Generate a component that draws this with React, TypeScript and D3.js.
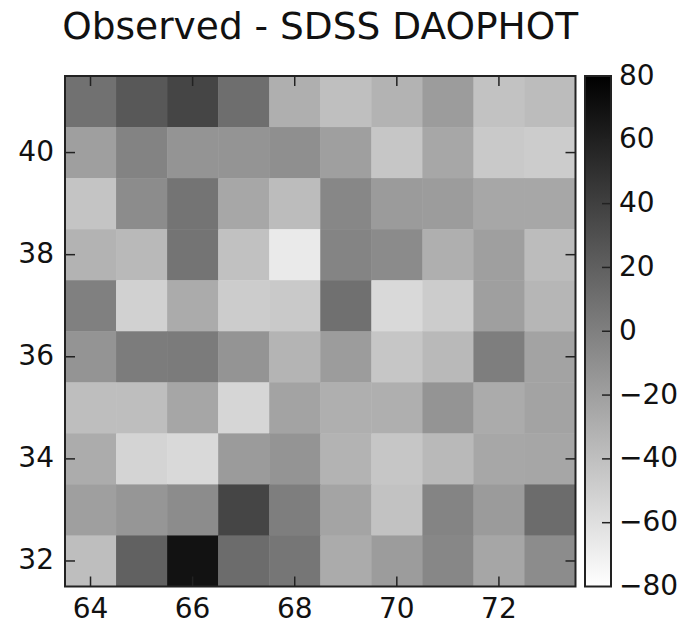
import React from 'react'
import * as d3 from 'd3'

// grid centres
const xCenters = [64, 65, 66, 67, 68, 69, 70, 71, 72, 73]
const yCenters = [41, 40, 39, 38, 37, 36, 35, 34, 33, 32]

// residual values, one row per y (top to bottom)
const row41 = [9, 25, 37, 11, -30, -40, -32, -18, -42, -38]
const row40 = [-20, -2, -13, -13, -10, -20, -44, -25, -46, -48]
const row39 = [-43, -8, 7, -25, -38, -5, -17, -18, -25, -25]
const row38 = [-32, -36, 7, -41, -67, -3, -7, -30, -20, -38]
const row37 = [0, -51, -27, -48, -46, 10, -56, -48, -20, -34]
const row36 = [-13, 2, 3, -13, -33, -18, -44, -36, 1, -22]
const row35 = [-39, -39, -24, -54, -22, -30, -30, -13, -27, -22]
const row34 = [-28, -53, -56, -17, -13, -32, -44, -36, -25, -24]
const row33 = [-20, -14, -8, 37, 1, -23, -42, -3, -17, 12]
const row32 = [-39, 19, 69, 12, 6, -27, -18, -5, -24, -8]
const rows = [row41, row40, row39, row38, row37, row36, row35, row34, row33, row32]

const xTicks = [64, 66, 68, 70, 72]
const yTicks = [32, 34, 36, 38, 40]
const cbTicks = [80, 60, 40, 20, 0, -20, -40, -60, -80]

const W = 691
const H = 625
const left = 65, right = 575.5, top = 76, bottom = 586.5
const cbLeft = 585, cbRight = 611
const font = 'DejaVu Sans, sans-serif'
const frame = '#222'

export default function App() {
  const x = d3.scaleLinear().domain([63.5, 73.5]).range([left, right])
  const y = d3.scaleLinear().domain([31.5, 41.5]).range([bottom, top])
  const color = d3.scaleLinear<string>().domain([-80, 80]).range(['#ffffff', '#000000'])
  const cb = d3.scaleLinear().domain([-80, 80]).range([bottom, top])
  const tl = 10

  const fmt = (v: number) => (v < 0 ? '\u2212' + Math.abs(v) : String(v))

  return (
    <svg width={W} height={H} style={{ position: 'absolute', left: 0, top: 0, background: '#fff' }} fontFamily={font}>
      <defs>
        <linearGradient id="cbar" x1="0" y1="0" x2="0" y2="1">
          <stop offset="0%" stopColor={color(80)} />
          <stop offset="100%" stopColor={color(-80)} />
        </linearGradient>
      </defs>
      <text x={(left + right) / 2} y={39} textAnchor="middle" fontSize={37.5} fill="#111">
        Observed - SDSS DAOPHOT
      </text>

      <g>
        {rows.map((r, i) =>
          r.map((v, j) => (
            <rect
              key={i + '-' + j}
              x={x(xCenters[j] - 0.5)}
              y={y(yCenters[i] + 0.5)}
              width={x(xCenters[j] + 0.5) - x(xCenters[j] - 0.5) + 0.5}
              height={y(yCenters[i] - 0.5) - y(yCenters[i] + 0.5) + 0.5}
              fill={color(v)}
            />
          ))
        )}
      </g>

      {xTicks.map(t => (
        <g key={'x' + t}>
          <line x1={x(t)} x2={x(t)} y1={bottom} y2={bottom - tl} stroke={frame} strokeWidth={1.5} />
          <line x1={x(t)} x2={x(t)} y1={top} y2={top + tl} stroke={frame} strokeWidth={1.5} />
          <text x={x(t)} y={618} textAnchor="middle" fontSize={28} fill="#111">{t}</text>
        </g>
      ))}
      {yTicks.map(t => (
        <g key={'y' + t}>
          <line x1={left} x2={left + tl} y1={y(t)} y2={y(t)} stroke={frame} strokeWidth={1.5} />
          <line x1={right} x2={right - tl} y1={y(t)} y2={y(t)} stroke={frame} strokeWidth={1.5} />
          <text x={54} y={y(t) + 8.5} textAnchor="end" fontSize={28} fill="#111">{t}</text>
        </g>
      ))}
      <rect x={left} y={top} width={right - left} height={bottom - top} fill="none" stroke={frame} strokeWidth={2} />

      <rect x={cbLeft} y={top} width={cbRight - cbLeft} height={bottom - top} fill="url(#cbar)" stroke={frame} strokeWidth={2} />
      {cbTicks.map(t => (
        <g key={'c' + t}>
          {t !== 80 && t !== -80 && (
            <line x1={cbRight} x2={cbRight - 9} y1={cb(t)} y2={cb(t)} stroke={frame} strokeWidth={1.5} />
          )}
          <text x={cbRight + 8} y={cb(t) + 8.5} fontSize={28} fill="#111">{fmt(t)}</text>
        </g>
      ))}
    </svg>
  )
}
